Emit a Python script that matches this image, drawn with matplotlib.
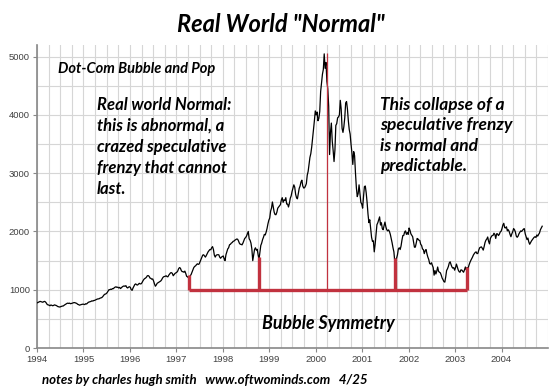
import numpy as np
import matplotlib.pyplot as plt
from matplotlib.ticker import MultipleLocator

# weekly Nasdaq closes (approx.)
nasdaq_1994 = [777, 785, 792, 800, 795, 790, 785, 795, 800, 790, 770, 745, 740,
               735, 725, 738, 733, 725, 730, 740, 735, 730, 720, 710, 706, 703,
               710, 715, 720, 722, 735, 745, 755, 765, 770, 765, 770, 760, 764,
               770, 775, 780, 777, 770, 765, 750, 745, 735, 740, 745, 750, 752]
nasdaq_1995 = [750, 745, 760, 755, 770, 785, 790, 793, 800, 810, 805, 815, 817,
               825, 835, 840, 843, 845, 855, 860, 865, 880, 900, 920, 925, 933,
               950, 975, 1000, 1001, 1010, 1005, 1020, 1018, 1035, 1045, 1050, 1040, 1044,
               1030, 1040, 1020, 1036, 1050, 1060, 1065, 1059, 1070, 1040, 1030, 1045, 1052]
nasdaq_1996 = [1040, 1000, 990, 1030, 1060, 1090, 1100, 1085, 1080, 1095, 1110, 1100, 1101,
               1120, 1150, 1175, 1191, 1200, 1215, 1240, 1243, 1230, 1200, 1195, 1180, 1185,
               1150, 1100, 1060, 1081, 1110, 1120, 1130, 1142, 1150, 1170, 1200, 1220, 1227,
               1230, 1240, 1225, 1222, 1250, 1270, 1290, 1293, 1280, 1240, 1260, 1280, 1291]
nasdaq_1997 = [1300, 1320, 1360, 1380, 1370, 1330, 1310, 1310, 1300, 1320, 1280, 1230, 1222,
               1205, 1215, 1240, 1261, 1300, 1340, 1380, 1400, 1410, 1430, 1445, 1435, 1442,
               1480, 1520, 1560, 1594, 1600, 1580, 1560, 1587, 1620, 1650, 1670, 1690, 1686,
               1720, 1740, 1690, 1594, 1560, 1590, 1600, 1601, 1600, 1560, 1540, 1560, 1570]
nasdaq_1998 = [1580, 1530, 1500, 1600, 1650, 1700, 1720, 1771, 1780, 1800, 1810, 1830, 1835,
               1850, 1860, 1870, 1868, 1840, 1800, 1780, 1779, 1770, 1800, 1840, 1880, 1895,
               1920, 1960, 2000, 1873, 1850, 1800, 1700, 1499, 1600, 1690, 1720, 1680, 1694,
               1600, 1520, 1640, 1760, 1800, 1860, 1900, 1950, 1940, 1990, 2050, 2130, 2193]
nasdaq_1999 = [2230, 2350, 2400, 2506, 2420, 2330, 2290, 2288, 2330, 2400, 2420, 2440, 2461,
               2540, 2580, 2500, 2543, 2530, 2580, 2470, 2471, 2420, 2480, 2570, 2610, 2686,
               2740, 2800, 2760, 2638, 2580, 2560, 2650, 2739, 2780, 2850, 2880, 2780, 2746,
               2750, 2780, 2820, 2966, 3030, 3150, 3270, 3336, 3450, 3600, 3750, 3900, 4069]
nasdaq_2000 = [4000, 4050, 3900, 3940, 4060, 4400, 4550, 4697, 4780, 5048, 4800, 4900, 4573,
               4450, 4150, 3320, 3700, 3860, 3550, 3390, 3200, 3400, 3820, 3850, 3950, 3966,
               4000, 4250, 4100, 3767, 3700, 3800, 3950, 4206, 4230, 4100, 3900, 3750, 3673,
               3500, 3350, 3150, 3370, 3300, 3000, 2750, 2598, 2650, 2800, 2650, 2500, 2471]
nasdaq_2001 = [2400, 2600, 2770, 2780, 2660, 2500, 2300, 2152, 2200, 2050, 1900, 1830, 1840,
               1650, 1780, 1950, 2116, 2150, 2200, 2250, 2110, 2150, 2050, 2030, 2100, 2161,
               2080, 2030, 2010, 2027, 2000, 1950, 1880, 1805, 1720, 1650, 1480, 1520, 1540,
               1600, 1700, 1720, 1690, 1750, 1850, 1930, 1931, 1990, 2010, 1950, 1980, 1950]
nasdaq_2002 = [2059, 2020, 1960, 1934, 1910, 1820, 1730, 1731, 1800, 1880, 1870, 1850, 1845,
               1780, 1760, 1700, 1688, 1620, 1670, 1690, 1616, 1560, 1520, 1450, 1440, 1463,
               1420, 1380, 1250, 1328, 1270, 1320, 1390, 1315, 1300, 1290, 1250, 1200, 1172,
               1140, 1130, 1220, 1330, 1360, 1400, 1460, 1479, 1430, 1390, 1370, 1380, 1336]
nasdaq_2003 = [1380, 1440, 1390, 1340, 1310, 1300, 1340, 1338, 1320, 1300, 1340, 1390, 1341,
               1380, 1360, 1420, 1464, 1500, 1530, 1560, 1596, 1620, 1640, 1650, 1620, 1623,
               1680, 1720, 1730, 1735, 1710, 1680, 1740, 1810, 1850, 1870, 1905, 1830, 1787,
               1880, 1910, 1930, 1932, 1970, 1950, 1880, 1960, 1960, 1930, 1950, 1990, 2003]
nasdaq_2004 = [2050, 2110, 2140, 2066, 2060, 2080, 2010, 2030, 2000, 1950, 1910, 1960, 1994,
               2050, 2030, 1990, 1920, 1900, 1920, 1960, 1987, 2010, 2000, 2020, 2040, 2048,
               1960, 1910, 1860, 1887, 1820, 1780, 1810, 1838, 1860, 1880, 1900, 1910, 1897,
               1940, 1920, 1950, 1975, 2030, 2060, 2090]

years = list(range(1994, 2005))
series = [nasdaq_1994, nasdaq_1995, nasdaq_1996, nasdaq_1997, nasdaq_1998, nasdaq_1999,
          nasdaq_2000, nasdaq_2001, nasdaq_2002, nasdaq_2003, nasdaq_2004]

# symmetry markers: (year, top value) of the thick red posts
posts_x = [1997.27, 1998.77, 2001.70, 2003.25]
posts_top = [1250, 1560, 1550, 1390]
base_level = 990
peak_x = 2000.24
peak_top = 5060

t = []
v = []
for yr, vals in zip(years, series):
    t += [yr + (i + 0.5) / 52 for i in range(len(vals))]
    v += vals

W, H = 550, 391
fig = plt.figure(figsize=(W / 100, H / 100), dpi=100)
ax = fig.add_axes([37 / W, 1 - 348 / H, 511 / W, 303 / H])

red = '#c1323f'
ax.plot(t, v, color='black', lw=0.9, zorder=3)
ax.vlines(peak_x, base_level, peak_top, color=red, lw=0.9, zorder=4)
ax.hlines(base_level, posts_x[0], posts_x[-1], color=red, lw=2.4, zorder=4)
ax.vlines(posts_x, base_level, posts_top, color=red, lw=2.4, zorder=4)

ax.set_xlim(1994, 2005)
ax.set_ylim(0, 5200)
ax.set_xticks(years)
ax.set_yticks(range(0, 5001, 1000))
ax.xaxis.set_minor_locator(MultipleLocator(0.25))
ax.yaxis.set_minor_locator(MultipleLocator(500))
ax.grid(True, which='both', color='#d6d6d6', lw=0.8, zorder=0)
for s in ['top', 'right']:
    ax.spines[s].set_visible(False)
for s in ['left', 'bottom']:
    ax.spines[s].set_color('#888888')
    ax.spines[s].set_linewidth(1.2)
ax.tick_params(which='major', length=3, color='#888888', labelsize=6.8,
               labelcolor='#404040', pad=2)
ax.tick_params(which='minor', length=0)
for lab in ax.get_xticklabels() + ax.get_yticklabels():
    lab.set_fontfamily('Liberation Sans')

font = dict(family='Lato', weight='bold', style='italic', color='black')


def put(x, y, s, size, **kw):
    fig.text(x / W, 1 - y / H, s, fontsize=size, **font, **kw)


put(281, 25, 'Real World "Normal"', 17, ha='center', va='center')
put(58, 69, 'Dot-Com Bubble and Pop', 10.5, va='center')
put(97, 97, 'Real world Normal:\nthis is abnormal, a\ncrazed speculative\nfrenzy that cannot\nlast.',
    12, va='top', linespacing=1.38)
put(380, 97, 'This collapse of a\nspeculative frenzy\nis normal and\npredictable.',
    12.5, va='top', linespacing=1.33)
put(262, 324, 'Bubble Symmetry', 12.8, va='center')
put(42, 380, 'notes by charles hugh smith   www.oftwominds.com   4/25', 9.5, va='center')

fig.savefig('out.png', dpi=100)
